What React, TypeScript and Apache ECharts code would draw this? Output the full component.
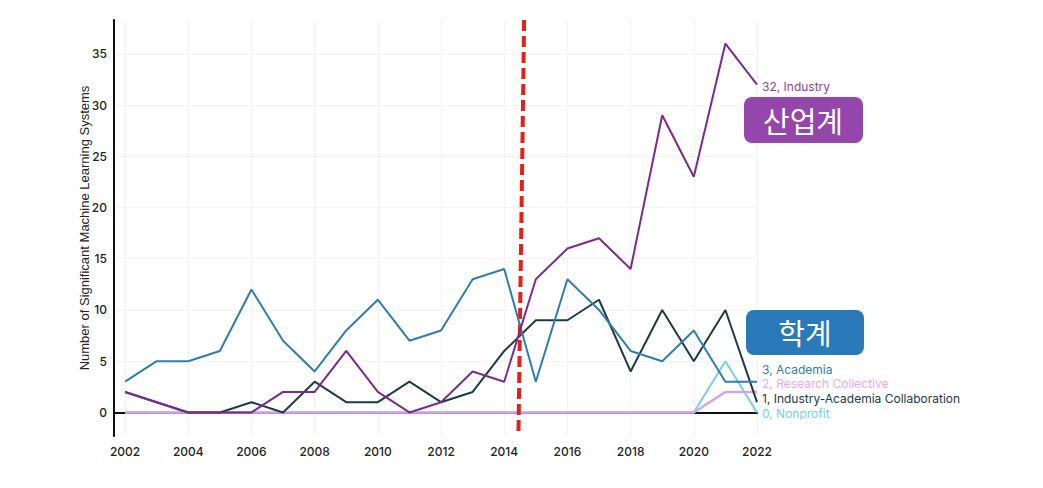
import React, { useEffect, useRef } from "react";
import * as echarts from "echarts";

const years = [2002, 2003, 2004, 2005, 2006, 2007, 2008, 2009, 2010, 2011, 2012, 2013, 2014, 2015, 2016, 2017, 2018, 2019, 2020, 2021, 2022];
const industry = [2, 1, 0, 0, 0, 2, 2, 6, 2, 0, 1, 4, 3, 13, 16, 17, 14, 29, 23, 36, 32];
const academia = [3, 5, 5, 6, 12, 7, 4, 8, 11, 7, 8, 13, 14, 3, 13, 10, 6, 5, 8, 3, 3];
const collaboration = [2, 1, 0, 0, 1, 0, 3, 1, 1, 3, 1, 2, 6, 9, 9, 11, 4, 10, 5, 10, 1];
const researchCollective = [0, 0, 0, 0, 0, 0, 0, 0, 0, 0, 0, 0, 0, 0, 0, 0, 0, 0, 0, 2, 2];
const nonprofit = [0, 0, 0, 0, 0, 0, 0, 0, 0, 0, 0, 0, 0, 0, 0, 0, 0, 0, 0, 5, 0];
const yTicks = [0, 5, 10, 15, 20, 25, 30, 35];
const xTicks = [2002, 2004, 2006, 2008, 2010, 2012, 2014, 2016, 2018, 2020, 2022];

const pairs = (vals: number[]) => years.map((y, i) => [y, vals[i]]);

export default function App() {
  const ref = useRef<HTMLDivElement>(null);
  useEffect(() => {
    document.body.style.margin = "0";
    if (!ref.current) return;
    const chart = echarts.init(ref.current, null, { renderer: "svg" });
    const mk = (name: string, vals: number[], color: string, labelColor: string, offsetY: number, z: number, width = 2) => ({
      name,
      type: "line",
      data: pairs(vals),
      symbol: "none",
      z,
      lineStyle: { color, width },
      itemStyle: { color },
      endLabel: {
        show: true,
        formatter: (p: any) => `${p.value[1]}, ${name}`,
        color: labelColor,
        fontSize: 12,
        fontFamily: "Inter",
        distance: 5,
        offset: [0, offsetY],
      },
    });
    chart.setOption({
      animation: false,
      backgroundColor: "#ffffff",
      grid: { left: 114, right: 286, top: 20, bottom: 52 },
      xAxis: {
        type: "value",
        min: 2001.65,
        max: 2022,
        axisLine: { show: true, lineStyle: { color: "#111", width: 2 } },
        axisTick: { show: false, customValues: xTicks },
        axisLabel: {
          customValues: xTicks,
          color: "#222",
          fontSize: 12,
          fontFamily: "Inter",
          fontWeight: 500,
          margin: 9,
          formatter: (v: number) => String(v),
        },
        splitLine: { show: true, lineStyle: { color: "#f3f3f3", width: 1 } },
      },
      yAxis: {
        type: "value",
        min: -2.3,
        max: 38.3,
        name: "Number of Significant Machine Learning Systems",
        nameLocation: "middle",
        nameGap: 23,
        nameMoveOverlap: false,
        nameTextStyle: { color: "#222", fontSize: 13, fontFamily: "Liberation Sans" },
        axisLine: { show: true, lineStyle: { color: "#111", width: 2 } },
        axisTick: { show: false, customValues: yTicks },
        axisLabel: {
          customValues: yTicks,
          color: "#222",
          fontSize: 12,
          fontFamily: "Inter",
          fontWeight: 500,
          margin: 7,
        },
        splitLine: { show: true, lineStyle: { color: "#f3f3f3", width: 1 } },
      },
      series: [
        mk("Nonprofit", nonprofit, "#74cfe9", "#74cfe9", 1, 2),
        mk("Research Collective", researchCollective, "#d2a3f0", "#e8a8ea", -8, 3, 2.5),
        mk("Industry-Academia Collaboration", collaboration, "#1e3a44", "#1e3a44", -4, 4),
        mk("Academia", academia, "#2f7db0", "#2f7db0", -12, 5),
        {
          ...mk("Industry", industry, "#7b2b8e", "#8a3fa0", 2, 6),
          markLine: {
            silent: true,
            symbol: "none",
            label: { show: false },
            lineStyle: { color: "#e3201c", width: 4, type: [11, 5] },
            data: [[{ coord: [2014.63, 38.3] }, { coord: [2014.45, -2.3] }]],
          },
        },
      ],
      graphic: [
        {
          type: "rect",
          shape: { x: 744, y: 97, width: 119, height: 46, r: 8 },
          style: { fill: "#9446ab" },
          z: 10,
        },
        {
          type: "text",
          x: 803,
          y: 120,
          style: {
            text: "산업계",
            fill: "#ffffff",
            fontSize: 29,
            fontFamily: "Noto Sans CJK KR",
            align: "center",
            verticalAlign: "middle",
          },
          z: 11,
        },
        {
          type: "rect",
          shape: { x: 746, y: 310, width: 118, height: 45, r: 8 },
          style: { fill: "#2a79b8" },
          z: 10,
        },
        {
          type: "text",
          x: 805,
          y: 332,
          style: {
            text: "학계",
            fill: "#ffffff",
            fontSize: 29,
            fontFamily: "Noto Sans CJK KR",
            align: "center",
            verticalAlign: "middle",
          },
          z: 11,
        },
      ],
    });
    return () => chart.dispose();
  }, []);
  return <div ref={ref} style={{ width: 1043, height: 488 }} />;
}
